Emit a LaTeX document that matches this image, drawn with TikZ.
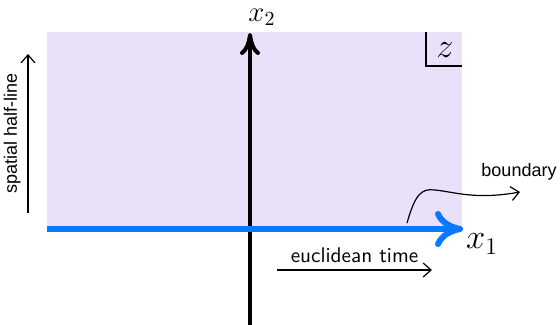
\documentclass[tikz,border=0pt]{standalone}
\usepackage{fontspec}
\newfontfamily\arialfont{Liberation Sans}
\usetikzlibrary{arrows.meta}
\definecolor{halfplane}{RGB}{235,224,250}
\definecolor{timeblue}{RGB}{12,120,255}
\begin{document}
\begin{tikzpicture}[x=0.5pt,y=-0.5pt]
	\tikzset{
		axis/.style={line width=2pt, -{Computer Modern Rightarrow[length=11pt,width=10pt]}},
		timeaxis/.style={timeblue, line width=3pt, -{Computer Modern Rightarrow[length=14pt,width=18pt]}},
		note/.style={font=\arialfont\fontsize{9}{10}\selectfont},
		arc/.style={line width=0.6pt, -{Straight Barb[length=4pt,width=7pt]}}
	}
	\useasboundingbox (0,0) rectangle (560,325);

	% half plane
	\fill[halfplane] (47,32) rectangle (462,229);
	\draw[line width=0.8pt] (426,32) |- (462,66);
	\draw node (z) at (445,50) {\LARGE $z$};

	% axes
	\coordinate (o1) at (47,229);
	\coordinate (e1) at (463,229);
	\coordinate (o2) at (250,325);
	\coordinate (e2) at (250,33);
	\draw[axis] (o2) -- (e2);
	\draw[timeaxis] (o1) -- (e1);
	\draw node (x2) at (262,17) {\Large $x_2$};
	\draw node (x1) at (482,244) {\LARGE $x_1$};

	% labels
	\coordinate (s0) at (28,213);
	\coordinate (s1) at (28,54);
	\draw[arc] (s0) -- node[note, midway, sloped, above] {spatial half-line} (s1);
	\coordinate (t0) at (277,270);
	\coordinate (t1) at (432,270);
	\draw[arc] (t0) -- node[midway, above, font=\sffamily\fontsize{10.6}{12}\selectfont] {euclidean time} (t1);
	\draw node[note] (bnd) at (519,172) {boundary};
	\coordinate (b0) at (407,223);
	\coordinate (b1) at (520,192);
	\draw[arc] (b0) .. controls (415,195) and (421,188) .. (435,190)
		.. controls (455,192) and (475,200) .. (b1);
\end{tikzpicture}
\end{document}
